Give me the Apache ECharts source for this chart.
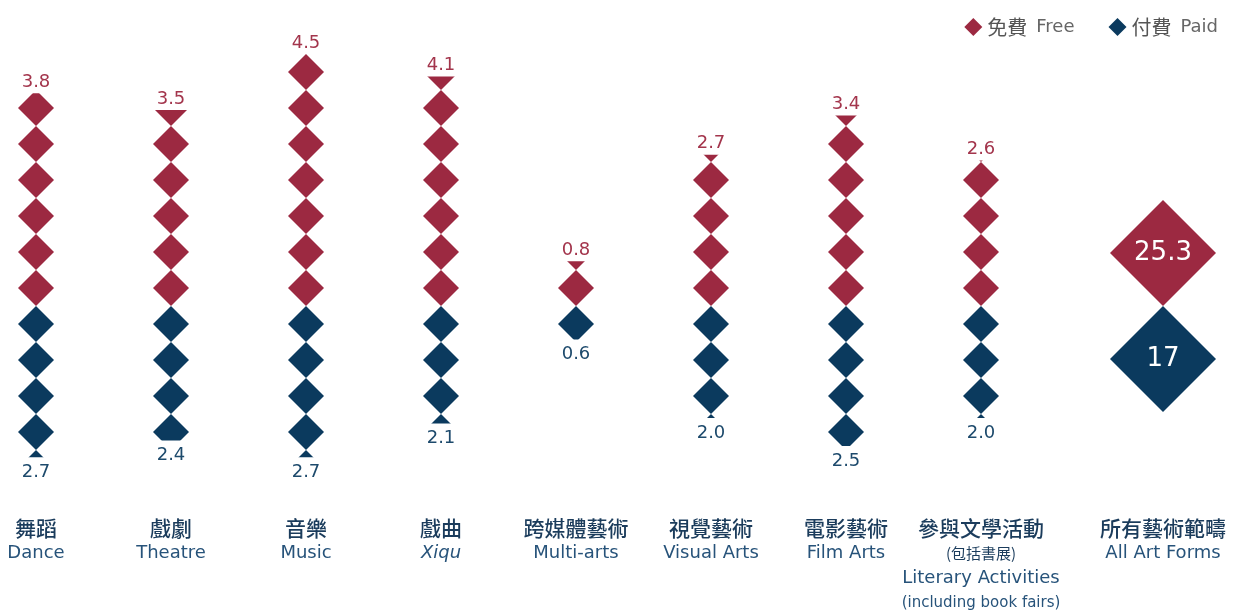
<!DOCTYPE html>
<html><head><meta charset="utf-8">
<script src="https://cdn.jsdelivr.net/npm/echarts@6/dist/echarts.min.js"></script>
<style>html,body{margin:0;padding:0;background:#fff}#c{width:1233px;height:611px}</style>
</head><body><div id="c"></div>
<script>
// ---- data ----
const categoriesZh = ['舞蹈', '戲劇', '音樂', '戲曲', '跨媒體藝術', '視覺藝術', '電影藝術', '參與文學活動'];
const categoriesEn = ['Dance', 'Theatre', 'Music', 'Xiqu', 'Multi-arts', 'Visual Arts', 'Film Arts', 'Literary Activities'];
const notesZh = ['', '', '', '', '', '', '', '(包括書展)'];
const notesEn = ['', '', '', '', '', '', '', '(including book fairs)'];
const freeValues = [3.8, 3.5, 4.5, 4.1, 0.8, 2.7, 3.4, 2.6];
const paidValues = [2.7, 2.4, 2.7, 2.1, 0.6, 2.0, 2.5, 2.0];
const totalZh = '所有藝術範疇';
const totalEn = 'All Art Forms';
const totalFree = [25.3];
const totalPaid = [17];
const seriesNames = ['Free', 'Paid'];
const seriesNamesZh = ['免費', '付費'];

// ---- style ----
const RED = '#9c2941', BLUE = '#0b3a5e';
const RED_TXT = '#a3354c', BLUE_TXT = '#1d4a6c';
const UNIT = 4.5 / 7;          // value represented by one diamond
const DIA = 36, BIG = 106;
const EN_FONT = 'DejaVu Sans', ZH_FONT = 'Noto Sans CJK TC';

const rich = {
  zh: { fontFamily: ZH_FONT, fontSize: 21, fontWeight: 500, color: '#1b3c5c', lineHeight: 25 },
  zhs: { fontFamily: ZH_FONT, fontSize: 15, color: '#1b3c5c', lineHeight: 25 },
  en: { fontFamily: EN_FONT, fontSize: 18, color: '#27537a', lineHeight: 25 },
  enI: { fontFamily: EN_FONT, fontSize: 18, color: '#27537a', lineHeight: 25, fontStyle: 'italic' },
  ens: { fontFamily: EN_FONT, fontSize: 15, color: '#27537a', lineHeight: 25 }
};
function catLabel(i) {
  const lines = ['{zh|' + categoriesZh[i] + '}'];
  if (notesZh[i]) lines.push('{zhs|' + notesZh[i] + '}');
  lines.push((categoriesEn[i] === 'Xiqu' ? '{enI|' : '{en|') + categoriesEn[i] + '}');
  if (notesEn[i]) lines.push('{ens|' + notesEn[i] + '}');
  return lines.join('\n');
}
const fmt = p => Math.abs(p.value).toFixed(1);
const fmtTotal = p => String(Math.abs(p.value));

const chart = echarts.init(document.getElementById('c'), null, { renderer: 'canvas' });
chart.setOption({
  animation: false,
  backgroundColor: '#fff',
  legend: {
    data: seriesNames, right: 10, top: 12, icon: 'diamond', itemWidth: 18, itemHeight: 18, itemGap: 34,
    formatter: n => '{zh|' + seriesNamesZh[seriesNames.indexOf(n)] + '}{en|' + n + '}',
    textStyle: { rich: {
      zh: { fontFamily: ZH_FONT, fontSize: 20, color: '#555', padding: [0, 9, 0, 0] },
      en: { fontFamily: EN_FONT, fontSize: 18, color: '#666' }
    } }
  },
  grid: [
    { left: 36, right: 252, top: 26, height: 448 },
    { left: 1110, width: BIG, top: 26, height: 448 }
  ],
  xAxis: [
    { type: 'category', gridIndex: 0, boundaryGap: false, data: categoriesEn,
      axisLine: { show: false }, axisTick: { show: false },
      axisLabel: { interval: 0, margin: 42, formatter: (v, i) => catLabel(i), rich } },
    { type: 'category', gridIndex: 1, data: [totalEn],
      axisLine: { show: false }, axisTick: { show: false },
      axisLabel: { interval: 0, margin: 42, formatter: () => '{zh|' + totalZh + '}\n{en|' + totalEn + '}', rich } }
  ],
  yAxis: [
    { type: 'value', gridIndex: 0, min: -3, max: 5, show: false, splitLine: { show: false } },
    { type: 'value', gridIndex: 1, min: -3, max: 5, show: false, splitLine: { show: false } }
  ],
  series: [
    { type: 'pictorialBar', name: 'Free', xAxisIndex: 0, yAxisIndex: 0,
      symbol: 'diamond', symbolRepeat: true, symbolClip: true, symbolMargin: 0,
      symbolSize: [DIA, DIA], symbolBoundingData: 7 * UNIT, barWidth: DIA,
      itemStyle: { color: RED },
      data: freeValues },
    { type: 'pictorialBar', name: 'Paid', xAxisIndex: 0, yAxisIndex: 0,
      symbol: 'diamond', symbolRepeat: true, symbolClip: true, symbolMargin: 0,
      symbolSize: [DIA, DIA], symbolBoundingData: -5 * UNIT, barWidth: DIA,
      itemStyle: { color: BLUE },
      data: paidValues.map(v => -v) },
    // value labels at the true bar ends
    { type: 'bar', name: 'freeLabel', xAxisIndex: 0, yAxisIndex: 0, barWidth: DIA, barGap: '-100%', silent: true,
      itemStyle: { color: 'rgba(0,0,0,0)' },
      label: { show: true, position: 'top', distance: 2, formatter: fmt, color: RED_TXT, fontSize: 18, fontFamily: EN_FONT },
      data: freeValues },
    { type: 'bar', name: 'paidLabel', xAxisIndex: 0, yAxisIndex: 0, barWidth: DIA, barGap: '-100%', silent: true,
      itemStyle: { color: 'rgba(0,0,0,0)' },
      label: { show: true, position: 'bottom', distance: 6, formatter: fmt, color: BLUE_TXT, fontSize: 18, fontFamily: EN_FONT },
      data: paidValues.map(v => -v) },
    { type: 'pictorialBar', name: 'Free', xAxisIndex: 1, yAxisIndex: 1,
      symbol: 'diamond', symbolPosition: 'start', symbolSize: [BIG, BIG], barWidth: BIG,
      itemStyle: { color: RED },
      label: { show: true, position: ['50%', '100%'], offset: [0, -BIG / 2], align: 'center', verticalAlign: 'middle',
        formatter: fmtTotal, color: '#fff', fontSize: 26, fontFamily: EN_FONT },
      data: totalFree },
    { type: 'pictorialBar', name: 'Paid', xAxisIndex: 1, yAxisIndex: 1,
      symbol: 'diamond', symbolPosition: 'start', symbolSize: [BIG, BIG], barWidth: BIG,
      itemStyle: { color: BLUE },
      label: { show: true, position: ['50%', '0%'], offset: [0, BIG / 2], align: 'center', verticalAlign: 'middle',
        formatter: fmtTotal, color: '#fff', fontSize: 26, fontFamily: EN_FONT },
      data: totalPaid.map(v => -v) }
  ]
});
</script></body></html>
